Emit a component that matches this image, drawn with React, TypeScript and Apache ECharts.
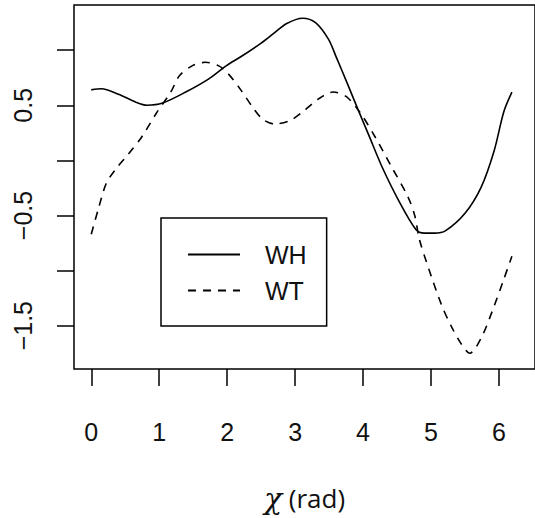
import React, { useEffect, useRef } from "react";
import * as echarts from "echarts";

const whX = [0, 0.15, 0.4, 0.65, 0.82, 1.05, 1.39, 1.73, 1.99, 2.2, 2.49, 2.68, 2.87, 3.11, 3.3, 3.49, 3.61, 3.76, 3.92, 4.09, 4.28, 4.52, 4.78, 4.9, 5.05, 5.21, 5.5, 5.74, 5.93, 6.07, 6.19];
const whY = [0.64, 0.65, 0.6, 0.53, 0.5, 0.52, 0.62, 0.74, 0.86, 0.94, 1.06, 1.15, 1.24, 1.29, 1.25, 1.1, 0.93, 0.71, 0.47, 0.22, -0.06, -0.36, -0.63, -0.66, -0.66, -0.64, -0.48, -0.24, 0.09, 0.44, 0.62];

const wtX = [0, 0.1, 0.22, 0.36, 0.55, 0.74, 0.96, 1.17, 1.3, 1.49, 1.68, 1.87, 2.01, 2.2, 2.39, 2.53, 2.7, 2.92, 3.11, 3.35, 3.56, 3.75, 3.95, 4.18, 4.42, 4.66, 4.76, 4.83, 4.97, 5.16, 5.31, 5.45, 5.57, 5.74, 5.93, 6.07, 6.19];
const wtY = [-0.67, -0.45, -0.21, -0.08, 0.06, 0.21, 0.43, 0.62, 0.77, 0.86, 0.89, 0.86, 0.79, 0.64, 0.47, 0.37, 0.33, 0.36, 0.44, 0.56, 0.62, 0.58, 0.44, 0.21, -0.06, -0.33, -0.5, -0.72, -0.99, -1.32, -1.52, -1.67, -1.75, -1.61, -1.32, -1.08, -0.87];

const xTicks = [0, 1, 2, 3, 4, 5, 6];
const yTicks = [-1.5, -1, -0.5, 0, 0.5, 1];
const yLabels = [-1.5, -0.5, 0.5];
const seriesNames = ["WH", "WT"];

const FONT = "Liberation Sans, Arial, sans-serif";

export default function App() {
  const ref = useRef<HTMLDivElement>(null);
  useEffect(() => {
    if (!ref.current) return;
    const chart = echarts.init(ref.current, null, { renderer: "svg" });
    const tickStyle = { show: true, inside: false, length: 17, lineStyle: { color: "#000", width: 1.5 } };
    chart.setOption({
      animation: false,
      backgroundColor: "#fff",
      grid: {
        left: 74,
        top: 5,
        right: -12,
        bottom: 144,
        show: true,
        borderColor: "#000",
        borderWidth: 1.5,
        backgroundColor: "transparent",
      },
      xAxis: {
        type: "value",
        min: -0.254,
        max: 6.53,
        axisLine: { show: false, onZero: false },
        splitLine: { show: false },
        axisTick: { ...tickStyle, customValues: xTicks },
        axisLabel: {
          customValues: xTicks,
          margin: 50,
          fontSize: 25,
          fontFamily: FONT,
          color: "#111",
        },
        name: "{chi|χ} (rad)",
        nameLocation: "middle",
        nameGap: 114,
        nameTextStyle: {
          fontSize: 26,
          fontFamily: "Open Sans, Liberation Sans, sans-serif",
          color: "#111",
          rich: {
            chi: { fontSize: 30, fontStyle: "italic", fontFamily: "DejaVu Serif, serif", color: "#111" },
          },
        },
      },
      yAxis: {
        type: "value",
        min: -1.893,
        max: 1.41,
        axisLine: { show: false, onZero: false },
        splitLine: { show: false },
        axisTick: { ...tickStyle, customValues: yTicks },
        axisLabel: {
          customValues: yLabels,
          rotate: 90,
          margin: 39,
          fontSize: 25,
          fontFamily: FONT,
          color: "#111",
          formatter: (v: number) => String(v).replace("-", "\u2212"),
        },
      },
      legend: {
        orient: "vertical",
        left: 161,
        top: 218,
        padding: [24, 20, 23, 26],
        itemGap: 11,
        itemWidth: 52,
        itemHeight: 24,
        borderColor: "#000",
        borderWidth: 1.5,
        backgroundColor: "#fff",
        selectedMode: false,
        itemStyle: { opacity: 0, borderWidth: 0 },
        data: seriesNames,
        textStyle: { fontSize: 25, fontFamily: FONT, color: "#111", padding: [0, 0, 0, 20] },
      },
      series: [
        {
          name: seriesNames[0],
          type: "line",
          symbol: "none",
          smooth: 0.3,
          data: whX.map((x, i) => [x, whY[i]]),
          lineStyle: { color: "#000", width: 1.6, type: "solid" },
          itemStyle: { color: "#000" },
        },
        {
          name: seriesNames[1],
          type: "line",
          symbol: "none",
          smooth: 0.3,
          data: wtX.map((x, i) => [x, wtY[i]]),
          lineStyle: { color: "#000", width: 1.6, type: [8, 7] },
          itemStyle: { color: "#000" },
        },
      ],
    });
    return () => chart.dispose();
  }, []);
  return <div ref={ref} style={{ position: "absolute", left: 0, top: 0, width: 535, height: 518 }} />;
}
